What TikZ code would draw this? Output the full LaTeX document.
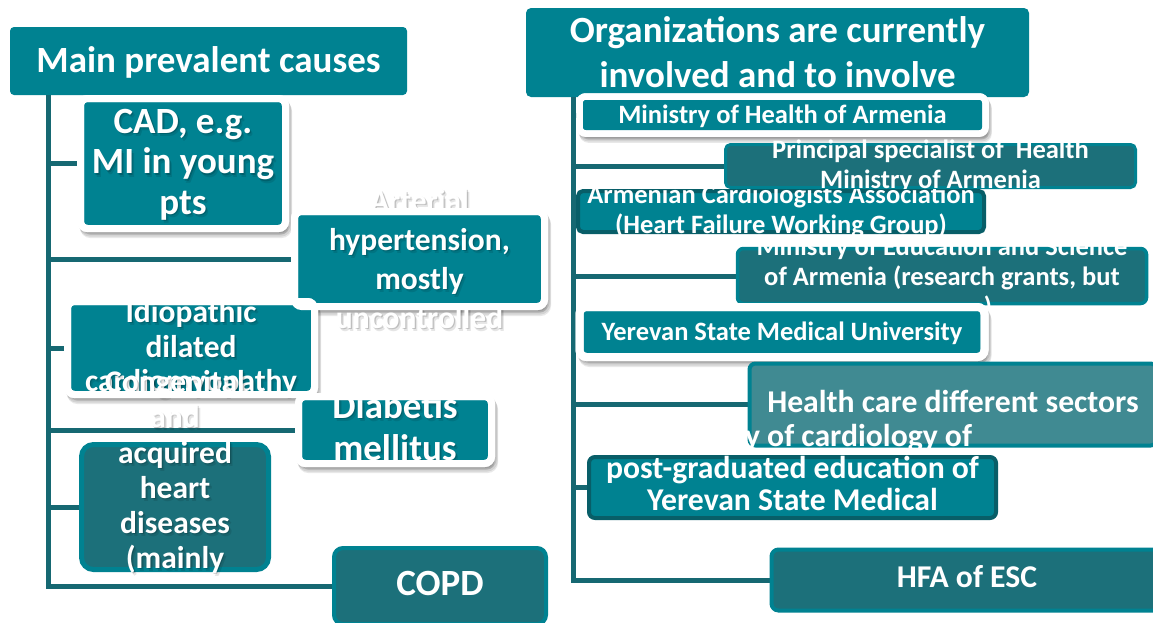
\documentclass[tikz,border=0pt]{standalone}
\usepackage{fontspec}
\setmainfont{Carlito}
\usetikzlibrary{calc}
\definecolor{teal0}{RGB}{0,130,145}
\definecolor{darkF}{RGB}{28,112,122}
\definecolor{lineC}{RGB}{22,104,114}
\definecolor{healthF}{RGB}{64,138,146}
\definecolor{darkB}{RGB}{8,94,104}
\tikzset{
 every node/.style={inner sep=0pt,outer sep=0pt},
 conn/.style={draw=lineC,line width=5pt},
 hdr/.style={rectangle,rounded corners=4pt,fill=teal0},
 wfill/.style={rectangle,rounded corners=7pt,fill=teal0,draw=white,line width=7pt},
 wshad/.style={rectangle,rounded corners=7pt,fill=black,draw=black,line width=7pt,opacity=0.09},
 wline/.style={rectangle,rounded corners=7pt,draw=white,line width=7pt},
 dbox/.style={rectangle,rounded corners=6pt,fill=darkF,draw=teal0,line width=4pt},
 tbox/.style={rectangle,rounded corners=5pt,fill=teal0,draw=darkB,line width=4pt},
 hbox/.style={rectangle,rounded corners=6pt,fill=healthF,draw=teal0,line width=4pt},
 txt/.style={text=white,anchor=base},
 tsh/.style={text=black,anchor=base},
 fH/.style={font=\bfseries\fontsize{37}{40}\selectfont},
 fC/.style={font=\bfseries\fontsize{37}{40}\selectfont},
 fM/.style={font=\bfseries\fontsize{31.5}{35}\selectfont},
 fS/.style={font=\bfseries\fontsize{26.5}{30}\selectfont},
 fL/.style={font=\bfseries\fontsize{31.7}{34}\selectfont},
}
% white-framed box with soft shadow: name, centre, width, height, extra options
\newcommand\WBox[5]{%
 \node[wshad,minimum width=#3,minimum height=#4,#5] (#1s1) at ($(#2)+(1.5,2.5)$) {};
 \node[wshad,minimum width=#3,minimum height=#4,#5] (#1s2) at ($(#2)+(2.5,4.5)$) {};
 \node[wshad,minimum width=#3,minimum height=#4,#5] (#1s3) at ($(#2)+(3,6)$) {};
 \node[wfill,minimum width=#3,minimum height=#4,#5] (#1) at (#2) {};}
\newcommand\ShLine[5]{%
 \node[tsh,text opacity=0.10,#4] (#1x) at (#2+2.5,#3+3.5) {#5};
 \node[tsh,text opacity=0.17,#4] (#1y) at (#2+1.2,#3+1.8) {#5};
 \node[txt,#4] (#1) at (#2,#3) {#5};}
\newcommand\PlLine[5]{\node[txt,#4] (#1) at (#2,#3) {#5};}
\begin{document}
\begin{tikzpicture}[x=1pt,y=-1pt]
\useasboundingbox (0,0) rectangle (1153,622);
\fill[white] (0,0) rectangle (1153,622);

% ---------- left panel ----------
\node[hdr,minimum width=397pt,minimum height=68pt] (lhead) at (208.5,61) {};
\PlLine{lheadt}{208.5}{72}{fH}{Main prevalent causes}
\coordinate (lt) at (48,95);

\path (183,163.5) coordinate (cadc) (419.5,259) coordinate (hypc)
      (191,348) coordinate (idioc) (395,430) coordinate (diabc)
      (175,507) coordinate (congc) (440,586) coordinate (copdc);

% connectors (under the boxes)
\draw[conn] (lt) |- (334,586) coordinate (copdw);
\draw[conn] (lt |- cadc) -- (80,163.5) coordinate (cadw);
\draw[conn] (lt |- hypc) -- (294,259) coordinate (hypw);
\draw[conn] (lt |- idioc) -- (68,348) coordinate (idiow);
\draw[conn] (lt |- diabc) -- (298,430) coordinate (diabw);
\draw[conn] (lt |- congc) -- (82,507) coordinate (congw);

% CAD
\WBox{cad}{cadc}{205pt}{130pt}{}
\ShLine{cad1}{183}{133}{fC}{CAD, e.g.}
\ShLine{cad2}{183}{173.5}{fC}{MI in young}
\ShLine{cad3}{183}{214}{fC}{pts}
% hypertension
\WBox{hyp}{hypc}{250pt}{95pt}{}
\ShLine{hyp1}{419.5}{211}{fM}{Arterial}
\ShLine{hyp2}{419.5}{250}{fM}{hypertension,}
\ShLine{hyp3}{419.5}{289}{fM}{mostly}
\ShLine{hyp4}{419.5}{328}{fM}{uncontrolled}
% idiopathic
\WBox{idio}{idioc}{247pt}{93pt}{}
\ShLine{idio1}{191}{322}{fM}{Idiopathic}
\ShLine{idio2}{191}{357}{fM}{dilated}
\ShLine{idio3}{191}{391}{fM}{cardiomyopathy}
% congenital
\node[dbox,rounded corners=12pt,line width=5pt,minimum width=187pt,minimum height=125pt] (cong) at (congc) {};
\ShLine{cong1}{175}{392}{fM}{Congenital}
\ShLine{cong2}{175}{427}{fM}{and}
\ShLine{cong3}{175}{463}{fM}{acquired}
\ShLine{cong4}{175}{498}{fM}{heart}
\ShLine{cong5}{175}{533}{fM}{diseases}
\ShLine{cong6}{175}{568}{fM}{(mainly}
% diabetis
\WBox{diab}{diabc}{193pt}{67pt}{}
\ShLine{diab1}{395}{418}{fC}{Diabetis}
\ShLine{diab2}{395}{460}{fC}{mellitus}
% COPD
\node[dbox,rounded corners=9pt,minimum width=212pt,minimum height=76pt] (copd) at (copdc) {};
\PlLine{copdt}{440}{595}{fC}{COPD}
% white outlines on top
\node[wline,minimum width=205pt,minimum height=130pt] (cado) at (cadc) {};
\node[wline,minimum width=250pt,minimum height=95pt] (hypo) at (hypc) {};
\node[wline,minimum width=247pt,minimum height=93pt] (idioo) at (idioc) {};
\node[wline,minimum width=193pt,minimum height=67pt] (diabo) at (diabc) {};

% ---------- right panel ----------
\node[hdr,rounded corners=5pt,minimum width=503pt,minimum height=89pt] (rhead) at (777.5,52.5) {};
\PlLine{rh1}{777.5}{42}{fH}{Organizations are currently}
\PlLine{rh2}{777.5}{87}{fH}{involved and to involve}
\coordinate (rt) at (573.5,97);
\path (782.5,115) coordinate (mohc) (930.5,166) coordinate (prc)
      (781,211.5) coordinate (armc) (942,276) coordinate (educ)
      (782,332) coordinate (ysc) (953,404.5) coordinate (hcc)
      (792.5,487.5) coordinate (pgc) (967,580) coordinate (hfac);
\draw[conn] (rt) |- (772,580) coordinate (hfaw);
\draw[conn] (rt |- mohc) -- (580,115) coordinate (mohw);
\draw[conn] (rt |- prc) -- (726,166) coordinate (prw);
\draw[conn] (rt |- armc) -- (578,211.5) coordinate (armw);
\draw[conn] (rt |- educ) -- (738,276) coordinate (eduw);
\draw[conn] (rt |- ysc) -- (580,332) coordinate (ysw);
\draw[conn] (rt |- hcc) -- (750,404.5) coordinate (hcw);
\draw[conn] (rt |- pgc) -- (589,487.5) coordinate (pgw);

% Ministry of Health
\WBox{moh}{mohc}{406pt}{37pt}{rounded corners=6pt,line width=6.5pt}
\PlLine{moht}{782.5}{123}{fS}{Ministry of Health of Armenia}
% Principal specialist
\node[dbox,rounded corners=5pt,line width=3pt,minimum width=410pt,minimum height=43pt] (pr) at (prc) {};
\PlLine{pr1}{930.5}{158}{fS}{Principal specialist of~ Health}
\PlLine{pr2}{930.5}{188}{fS}{Ministry of Armenia}
% Armenian Cardiologists
\node[tbox,minimum width=406pt,minimum height=41pt] (arm) at (armc) {};
\begin{scope}
\clip (560,189) rectangle (1153,622);
\PlLine{arm1}{781}{203}{fS}{Armenian Cardiologists Association}
\PlLine{arm2}{781}{233}{fS}{(Heart Failure Working Group)}
\end{scope}
% Ministry of Education
\node[dbox,rounded corners=6pt,line width=3.5pt,minimum width=409pt,minimum height=55pt] (edu) at (educ) {};
\PlLine{edu1}{942}{255}{fS}{Ministry of Education and Science}
\PlLine{edu2}{942}{285}{fS}{of Armenia (research grants, but}
\PlLine{edu3}{988}{315}{fS}{)}
% Yerevan State Medical University
\WBox{ys}{ysc}{405pt}{50pt}{rounded corners=7pt,line width=8pt}
\PlLine{yst}{782}{340}{fS}{Yerevan State Medical University}
% Health care
\node[hbox,minimum width=407pt,minimum height=82pt] (hc) at (hcc) {};
\PlLine{hct}{953}{412}{fL}{Health care different sectors}
% post-graduated
\node[tbox,rounded corners=6pt,minimum width=407pt,minimum height=61pt] (pg) at (pgc) {};
\node[txt,fL,anchor=base east] (pg0) at (972,446) {y of cardiology of};
\PlLine{pg1}{792.5}{478}{fL}{post-graduated education of}
\PlLine{pg2}{792.5}{510}{fL}{Yerevan State Medical}
% HFA of ESC
\node[dbox,rounded corners=7pt,minimum width=391pt,minimum height=61pt] (hfa) at (hfac) {};
\PlLine{hfat}{967}{587}{fL}{HFA of ESC}
% white outlines on top
\node[wline,rounded corners=6pt,line width=6.5pt,minimum width=406pt,minimum height=37pt] (moho) at (mohc) {};
\node[wline,rounded corners=7pt,line width=8pt,minimum width=405pt,minimum height=50pt] (yso) at (ysc) {};
\end{tikzpicture}
\end{document}
